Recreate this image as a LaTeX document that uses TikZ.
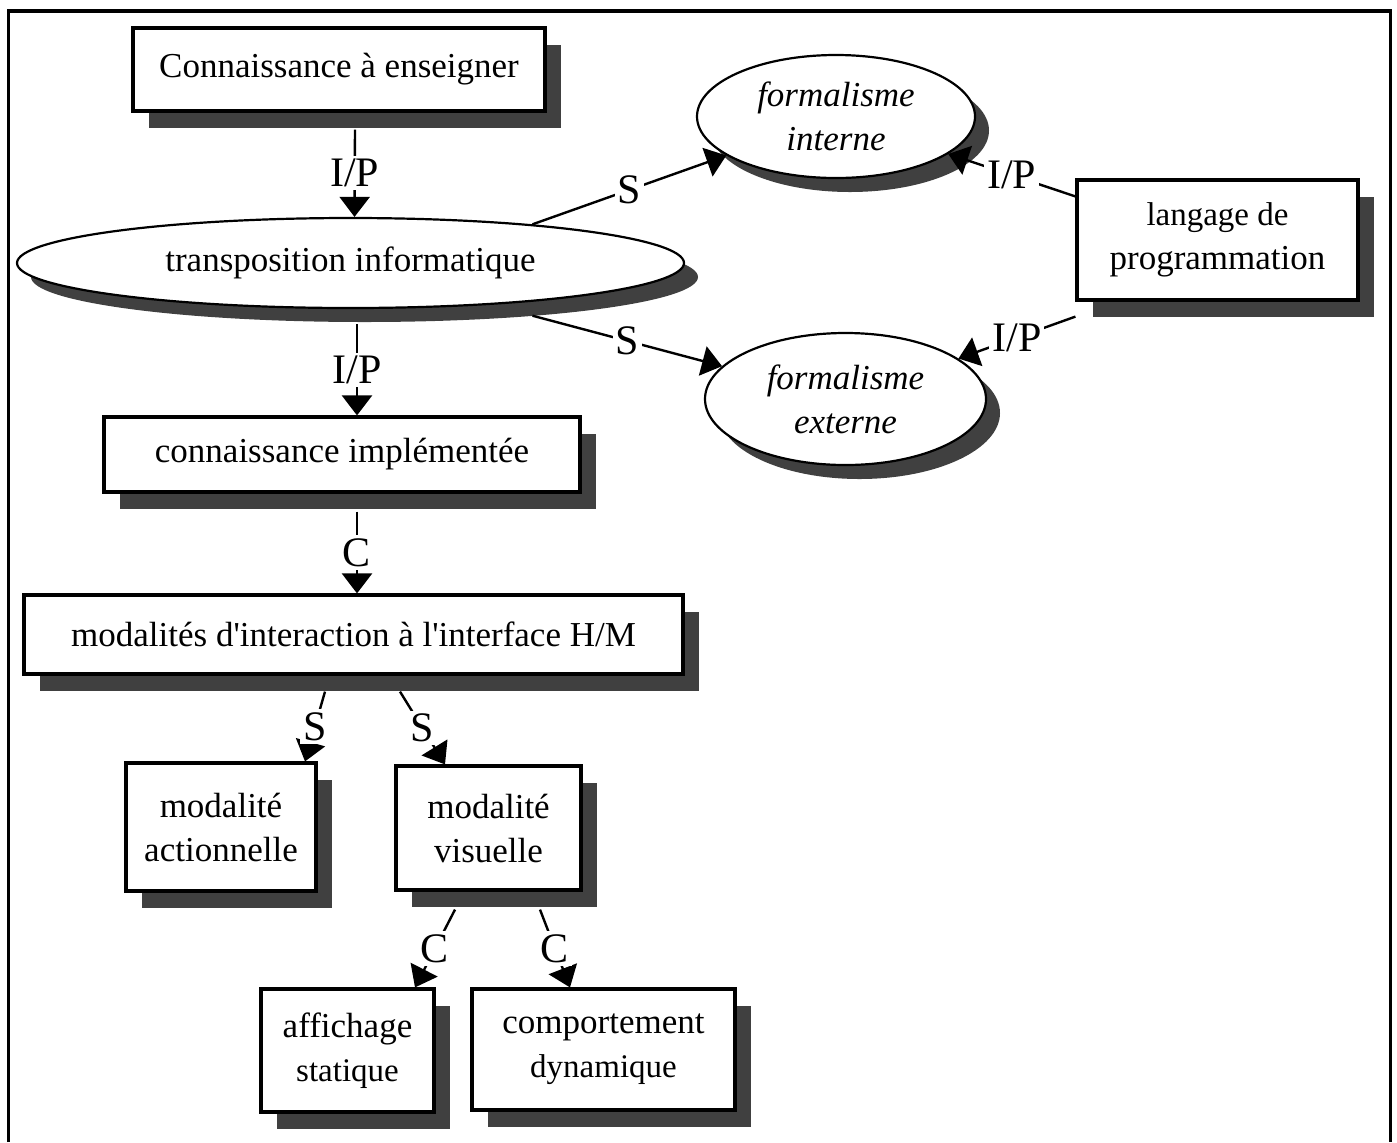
\documentclass[tikz,border=0pt]{standalone}
\usepackage{fontspec}
\setmainfont{Liberation Serif}
\usetikzlibrary{shapes,arrows.meta,shadows}
\definecolor{shadowgray}{RGB}{64,64,64}
\newcommand{\diagfont}{\fontsize{17.5}{22}\selectfont}
\newcommand{\minorfont}{\fontsize{16.5}{22}\selectfont}
\tikzset{
    block/.style={
        draw,
        line width=1.6pt,
        rectangle,
        fill=white,
        inner sep=2pt,
        drop shadow={shadow xshift=8pt, shadow yshift=-8.5pt, fill=shadowgray, opacity=1}
    },
    bubble/.style={
        draw,
        line width=1.1pt,
        ellipse,
        fill=white,
        inner sep=0pt,
        drop shadow={shadow xshift=7pt, shadow yshift=-7pt, fill=shadowgray, opacity=1}
    },
    link/.style={
        ->,
        line width=1.2pt
    },
    tag/.style={
        fill=white,
        inner sep=1.5pt,
        font=\fontsize{21}{21}\selectfont
    },
}

\begin{document}
\begin{tikzpicture}[x=0.5pt, y=-0.5pt, align=center, font=\diagfont,
    >={Triangle[length=10pt,width=15pt]}]
    \useasboundingbox (0,0) rectangle (1397,1142);
    % frame
    \draw[line width=1.75pt] (8.5,1142) -- (8.5,11) -- (1390.5,11) -- (1390.5,1142);

    % blocks
    \node[block, minimum width=206pt, minimum height=41.5pt] (cae) at (339,69.5) {Connaissance à enseigner};
    \node[bubble, minimum width=333.5pt, minimum height=45pt] (tinf) at (350.5,263) {transposition informatique};
    \node[bubble, minimum width=139pt, minimum height=61.5pt] (fint) at (836,116.5) {\itshape formalisme\\\itshape interne};
    \node[bubble, minimum width=140.5pt, minimum height=66pt] (fext) at (845.5,399) {\itshape formalisme\\\itshape externe};
    \node[block, minimum width=140.5pt, minimum height=60pt] (lang) at (1217.5,240) {\minorfont langage de\\\diagfont programmation};
    \node[block, minimum width=238pt, minimum height=37.5pt] (cimp) at (342,454.5) {connaissance implémentée};
    \node[block, minimum width=329.5pt, minimum height=39.5pt] (mih) at (353.5,634.5) {modalités d\textquotesingle interaction à l\textquotesingle interface H/M};
    \node[block, minimum width=95pt, minimum height=64pt] (mact) at (221,827) {modalité\\actionnelle};
    \node[block, minimum width=92.5pt, minimum height=62pt] (mvis) at (488.5,828) {modalité\\visuelle};
    \node[block, minimum width=86.5pt, minimum height=61.5pt] (aff) at (347.5,1050.5) {affichage\\\minorfont statique};
    \node[block, minimum width=131.5pt, minimum height=60.5pt] (comp) at (603.5,1049.5) {comportement\\\minorfont dynamique};

    % lines
    \draw[link] ([xshift=8pt,yshift=-8.5pt]cae.south) -- node[tag] {I/P} ([xshift=2pt]tinf.north);
    \draw[link] (tinf.12) -- node[tag] {S} (fint);
    \draw[link] ([yshift=-7pt]tinf.-12) -- node[tag] {S} (fext);
    \draw[link] ([yshift=-9pt]lang.north west) -- node[tag] {I/P} (fint);
    \draw[link] ([yshift=-7.5pt]lang.south west) -- node[tag] {I/P} (fext);
    \draw[link] ([xshift=3.25pt,yshift=-7.5pt]tinf.south) -- node[tag] {I/P} ([xshift=7.5pt]cimp.north);
    \draw[link] ([xshift=7.5pt,yshift=-9pt]cimp.south) -- node[tag] {C} ([xshift=1.75pt]mih.north);
    \draw[link] ([xshift=-14.25pt,yshift=-8pt]mih.south) -- node[tag] {S} ([xshift=42pt]mact.north);
    \draw[link] ([xshift=23.25pt,yshift=-8pt]mih.south) -- node[tag] {S} ([xshift=-21.75pt]mvis.north);
    \draw[link] ([xshift=-16.75pt,yshift=-9pt]mvis.south) -- node[tag] {C} ([xshift=33.75pt]aff.north);
    \draw[link] ([xshift=25.75pt,yshift=-9pt]mvis.south) -- node[tag] {C} ([xshift=-16.75pt]comp.north);
\end{tikzpicture}
\end{document}
